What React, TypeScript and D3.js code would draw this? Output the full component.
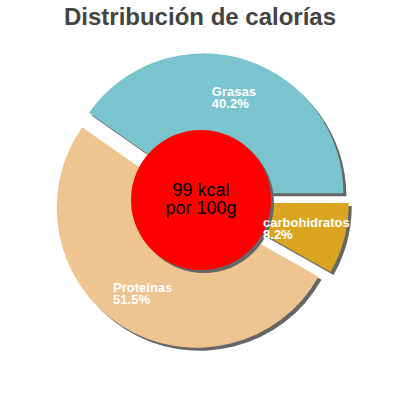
import { useEffect, useRef } from 'react'
import * as d3 from 'd3'

const categories = ['Grasas', 'Proteínas', 'carbohidratos']
const percents = [40.2, 51.5, 8.2]
const colors = ['#7AC5CD', '#EEC591', '#DAA520']
const centerLines = ['99 kcal', 'por 100g']
const title = 'Distribución de calorías'

export default function App() {
  const ref = useRef<SVGSVGElement>(null)

  useEffect(() => {
    if (!ref.current) return
    const svg = d3.select(ref.current)
    svg.selectAll('*').remove()

    const width = 400
    const height = 400
    const cx = 201
    const cy = 201
    const radius = 140
    const explode = 8
    const labelRadius = 101
    const font = '"Liberation Sans", Arial, sans-serif'

    svg.attr('width', width).attr('height', height).attr('viewBox', `0 0 ${width} ${height}`)

    svg.append('text')
      .attr('x', width / 2).attr('y', 25)
      .attr('text-anchor', 'middle')
      .attr('font-family', font)
      .attr('font-size', '24px')
      .attr('font-weight', 'bold')
      .attr('fill', '#444')
      .text(title)

    const data = categories.map((c, i) => ({ name: c, value: percents[i], color: colors[i] }))

    // counter-clockwise from 3 o'clock
    const pie = d3.pie<typeof data[number]>()
      .value(d => d.value)
      .sort(null)
      .startAngle(Math.PI / 2)
      .endAngle(Math.PI / 2 - 2 * Math.PI)

    const arcs = pie(data)
    const arc = d3.arc<d3.PieArcDatum<typeof data[number]>>().innerRadius(0).outerRadius(radius)

    const offset = (a: d3.PieArcDatum<any>, r: number) => {
      const m = (a.startAngle + a.endAngle) / 2
      return [Math.sin(m) * r, -Math.cos(m) * r]
    }

    const g = svg.append('g').attr('transform', `translate(${cx},${cy})`)

    // shadows
    arcs.forEach(a => {
      const [dx, dy] = offset(a, explode)
      g.append('path')
        .attr('d', arc(a)!)
        .attr('transform', `translate(${dx + 3},${dy + 3})`)
        .attr('fill', '#666')
    })

    arcs.forEach(a => {
      const [dx, dy] = offset(a, explode)
      g.append('path')
        .attr('d', arc(a)!)
        .attr('transform', `translate(${dx},${dy})`)
        .attr('fill', a.data.color)
    })

    // center disc
    g.append('circle').attr('cx', 3).attr('cy', 2).attr('r', 70).attr('fill', '#666')
    g.append('circle').attr('cx', 0).attr('cy', -1).attr('r', 70).attr('fill', '#ff0000')

    centerLines.forEach((t, i) => {
      g.append('text')
        .attr('x', 0).attr('y', -5 + i * 18)
        .attr('text-anchor', 'middle')
        .attr('font-family', font)
        .attr('font-size', '18px')
        .attr('fill', '#000')
        .text(t)
    })

    // labels
    arcs.forEach(a => {
      const [ex, ey] = offset(a, explode)
      const [lx, ly] = offset(a, labelRadius)
      const bx = ex + lx
      const by = ey + ly
      const lbl = g.append('text')
        .attr('font-family', font)
        .attr('font-size', '13px')
        .attr('font-weight', 'bold')
        .attr('fill', '#fff')
      const t1 = lbl.append('tspan').text(a.data.name)
      const t2 = lbl.append('tspan').text(`${a.data.value}%`)
      const w = Math.max(
        (t1.node() as SVGTextContentElement).getComputedTextLength(),
        (t2.node() as SVGTextContentElement).getComputedTextLength()
      )
      const x0 = bx - w / 2
      const b1 = by - 1.3
      t1.attr('x', x0).attr('y', b1)
      t2.attr('x', x0).attr('y', b1 + 12)
    })
  }, [])

  return (
    <svg ref={ref} style={{ position: 'absolute', left: 0, top: 0, background: '#fff' }} />
  )
}
